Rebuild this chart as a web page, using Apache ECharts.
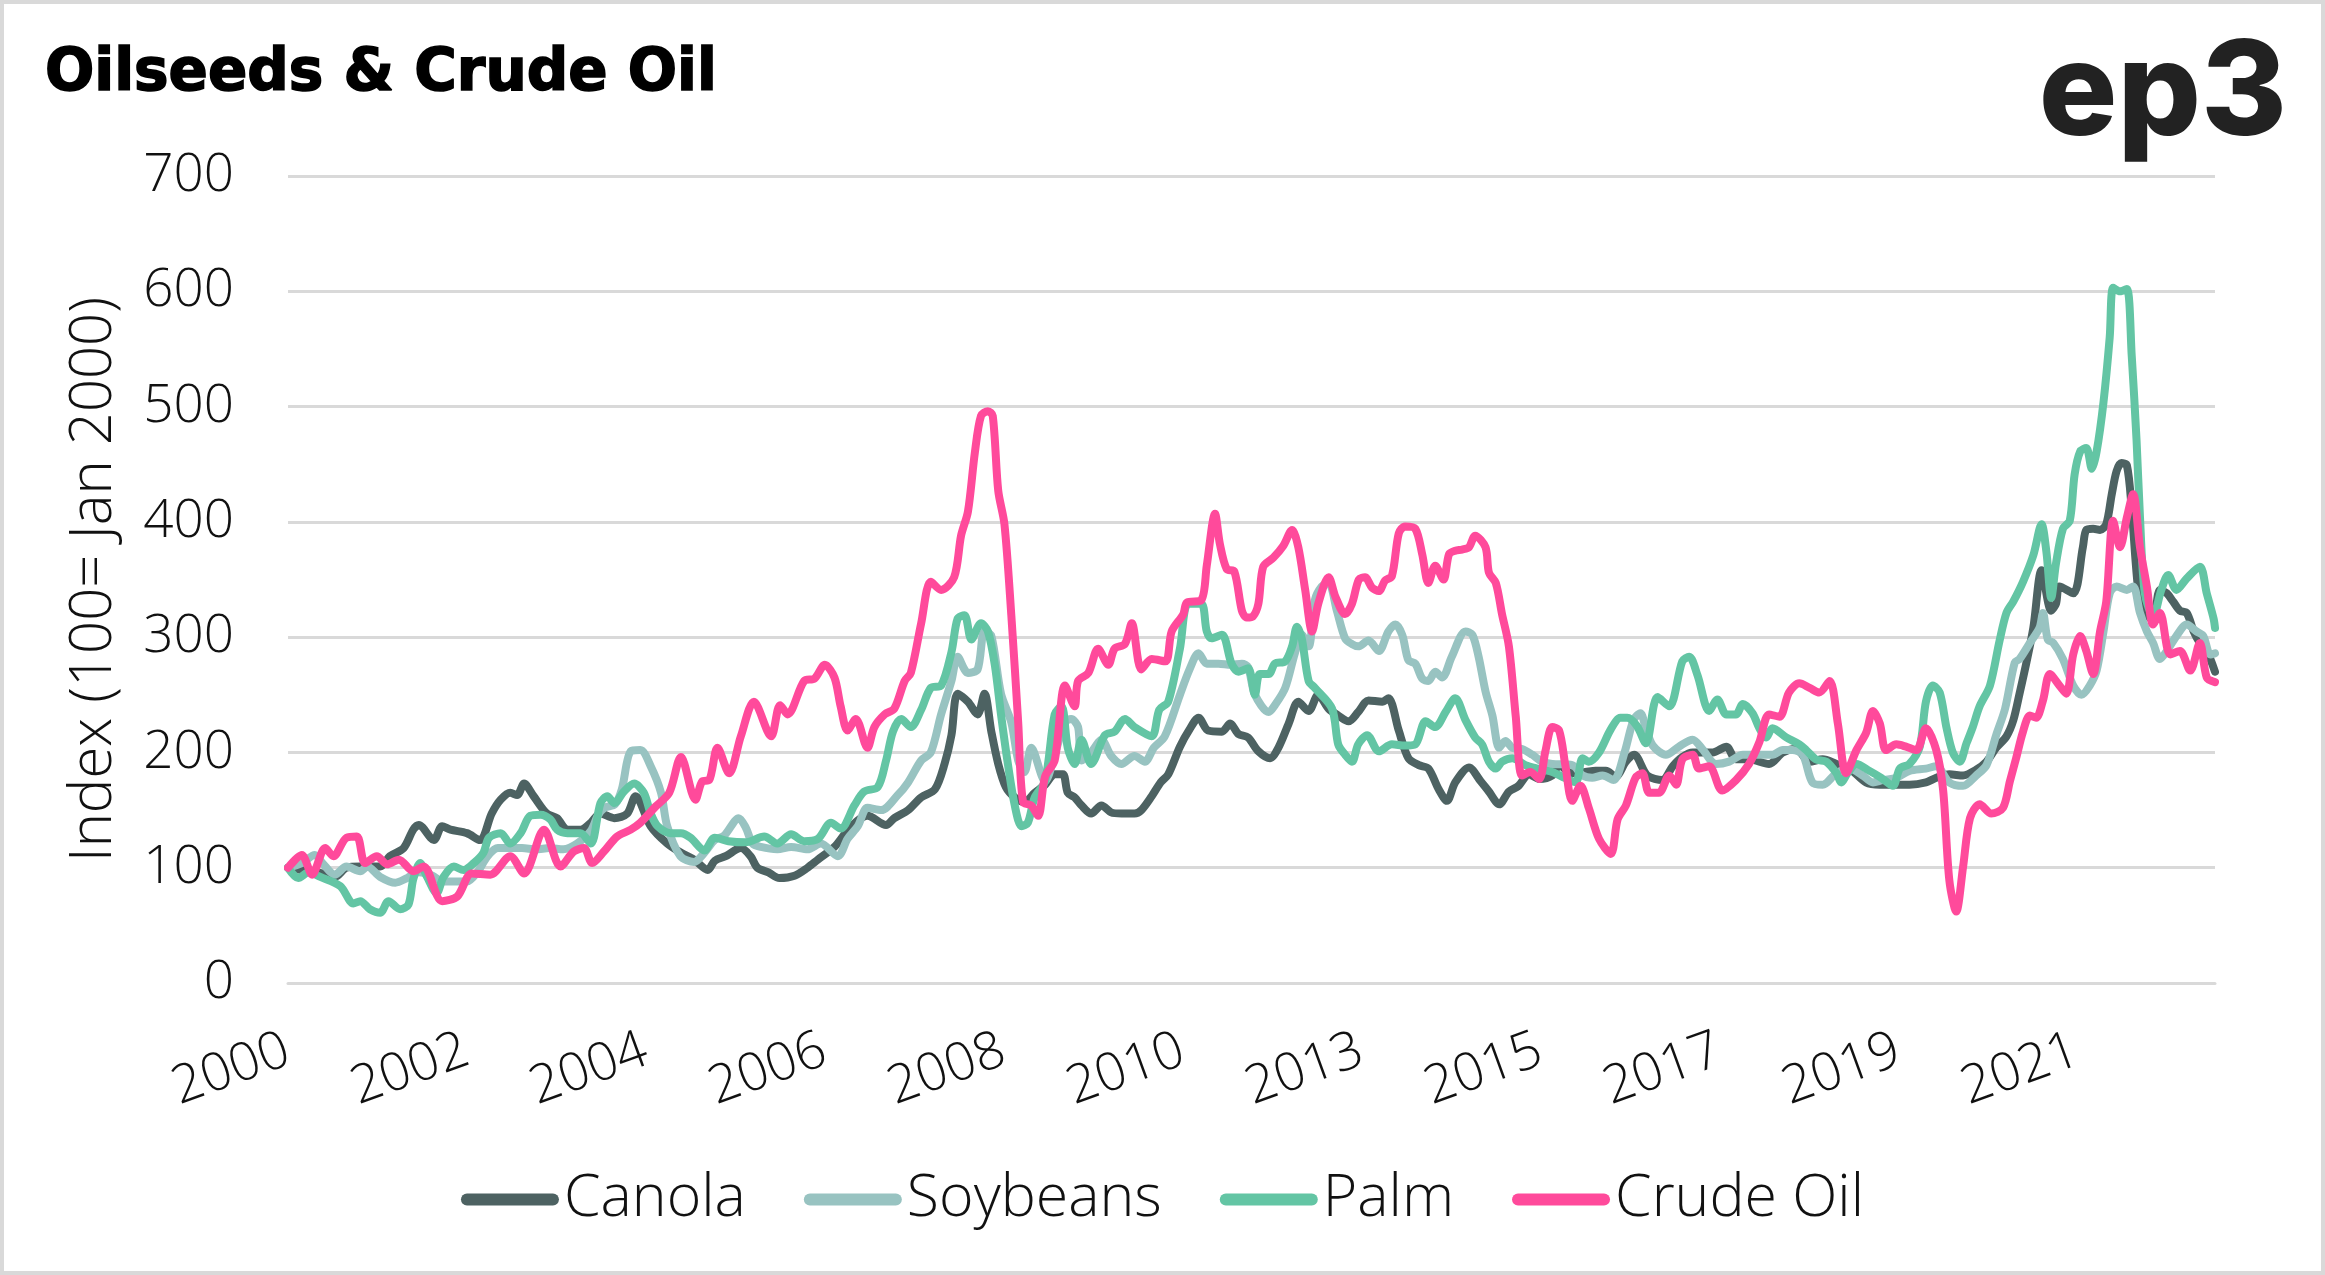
<!DOCTYPE html>
<html>
<head>
<meta charset="utf-8">
<script src="https://cdn.jsdelivr.net/npm/echarts@6/dist/echarts.min.js"></script>
<style>
html,body{margin:0;padding:0;background:#fff;}
#frame{width:2325px;height:1275px;box-sizing:border-box;border:4px solid #d9d9d9;position:relative;}
#chart{position:absolute;left:-4px;top:-4px;width:2325px;height:1275px;}
</style>
</head>
<body>
<div id="frame"><div id="chart"></div></div>
<script>
// month index 0 = Jan 2000; labels every 26 months
const yearLabels = ['2000','2002','2004','2006','2008','2010','2013','2015','2017','2019','2021'];
const seriesNames = ['Canola','Soybeans','Palm','Crude Oil'];

const canola = [[0,100],[2,98],[5,95],[6.8,92],[8.5,100],[10.5,101],[13.4,101],[14.8,110],[16.8,117],[18.2,133],[19,137],[21.2,124],[22.4,136],[23.6,133],[26,130],[27.9,124],[29.6,147],[30.9,159],[32.3,165],[33.3,163],[34.3,173],[35.7,162],[37.6,147],[39.1,143],[40.6,133],[42.5,133],[44,139],[45.4,147],[47.4,143],[49.3,147],[50.5,162],[52.7,136],[55.1,121],[57.1,113],[59,107],[61,98],[62,106],[63.6,110],[65.8,117],[67.2,110],[68.2,100],[69.8,96],[71.4,91],[73.6,93],[75.5,100],[77,107],[79.4,118],[81,130],[82.8,141],[84.2,145],[86.9,137],[88.1,143],[90.1,150],[92,161],[94,168],[95.4,190],[96.4,215],[97.3,251],[98.8,244],[100.2,233],[101.2,251],[102.2,218],[103.2,190],[104.3,170],[105.6,161],[107,157],[108.5,165],[110,172],[111.4,181],[112.6,181],[113.3,165],[114.3,161],[115.3,154],[116.7,147],[118.2,154],[119.6,148],[121.1,147],[123,147],[124,150],[125.5,162],[126.8,174],[127.9,181],[129.6,205],[131,220],[132.3,230],[133.7,219],[135.7,218],[136.9,225],[138.1,216],[139.5,213],[141,201],[142.7,195],[143.9,204],[145.4,225],[146.8,244],[148.3,236],[149.7,250],[151.2,238],[152.6,232],[154.1,227],[155.5,235],[157,245],[159,244],[159.9,247],[161.4,219],[162.8,195],[164.3,189],[165.7,186],[167.2,168],[168.4,158],[169.6,174],[171.6,187],[173.3,175],[174.5,166],[176,155],[177.4,166],[178.8,171],[180.3,181],[181.8,177],[183.7,180],[184.7,189],[186.5,182],[188.5,183],[190,184],[191.5,184],[192.9,179],[194.4,192],[195.6,198],[197.5,180],[199.7,176],[201.2,188],[202.6,196],[204.1,200],[207,200],[209,205],[210.4,194],[212.3,194],[215.2,190],[217.2,200],[219.1,203],[221.1,192],[223,194],[225,190],[226.9,186],[229.3,174],[231.3,172],[233.7,172],[235.6,172],[238,174],[239.5,178],[241.4,181],[243.4,180],[245.3,185],[246.8,192],[248.2,204],[249.7,214],[250.7,228],[251.6,251],[252.6,278],[253.6,308],[254.8,358],[256.2,323],[256.9,329],[257.4,344],[259.4,338],[260.8,378],[261.3,393],[262.3,394],[263.3,393],[264.2,398],[265,424],[265.7,444],[266.4,451],[267.2,449],[267.9,411],[268.9,338],[269.8,321],[271,315],[272,341],[273,338],[273.9,331],[274.9,323],[275.9,321],[276.9,305],[277.8,295],[278.8,288],[280,270]];

const soybeans = [[0,100],[2,104],[3.9,111],[5,104],[6.8,94],[8.5,101],[10.5,97],[11.5,101],[13.4,92],[15.6,87],[17.3,91],[19,96],[21,93],[22.4,88],[24,88],[26,88],[27.5,96],[29,110],[30.5,117],[32,117],[34,117],[36,116],[38,117],[40,116],[42,121],[44,132],[45,145],[46,152],[47.5,155],[48.5,168],[49.8,201],[51.2,202],[52.7,188],[54.2,165],[55.1,136],[57,110],[59,105],[60.5,113],[62,124],[63.4,128],[65.5,143],[66.5,135],[67.5,121],[68.7,118],[71.1,116],[73.1,118],[75.5,116],[77.4,121],[79.9,110],[81.3,125],[82.8,136],[84.2,152],[86.2,150],[88.6,163],[90.1,174],[92,193],[93.4,200],[94.9,233],[96.4,262],[97.3,283],[98.8,269],[100.2,272],[101.2,305],[102.2,301],[103.6,251],[105.1,226],[106.1,193],[107,183],[108,204],[110,175],[111.5,200],[112.9,226],[113.8,229],[114.8,222],[115.3,193],[116.7,200],[118.2,211],[119.6,197],[121.1,190],[123,197],[124.5,192],[125.8,204],[127.4,214],[129.6,250],[131,272],[132.3,286],[133.5,277],[135.2,277],[137,276],[138.6,277],[139.5,274],[140.5,250],[142.5,235],[143.4,241],[144.9,256],[146.3,286],[147.3,302],[148.3,292],[149.2,332],[150.2,344],[151.2,347],[152.4,323],[153.6,299],[154.6,294],[155.5,292],[157,297],[158.5,288],[159.9,305],[160.9,311],[161.9,302],[162.8,280],[163.8,277],[164.8,264],[165.7,262],[166.7,270],[167.7,265],[169.1,283],[171.1,305],[172.1,302],[173,283],[174,253],[175,232],[176,204],[176.9,210],[177.9,204],[179.3,203],[180.8,198],[182.2,192],[183.7,190],[186.6,189],[188.1,180],[189.5,178],[191,180],[192.6,176],[194.2,200],[195.5,228],[196.5,234],[197.3,221],[198.3,206],[200.2,198],[202.1,205],[204.1,211],[205.5,203],[207.5,190],[209.4,192],[211.4,198],[213.5,198],[215.7,198],[217.2,202],[218.6,202],[220.1,198],[221.5,174],[223,172],[225,182],[226.9,186],[228.8,180],[230.3,174],[231.7,176],[233.7,178],[235.6,184],[238,186],[239.5,188],[241.4,174],[243.4,171],[245.3,180],[246.8,189],[248.2,215],[249.5,238],[250.9,278],[251.6,281],[253.1,295],[254.5,308],[255,321],[255.7,298],[256.5,295],[257.9,281],[259.4,258],[260.6,250],[261.8,258],[262.8,271],[263.8,305],[264.7,338],[265.7,344],[267.2,341],[268.1,344],[269.1,321],[270.1,305],[271,295],[272,281],[273,288],[274.4,301],[275.9,311],[277.3,305],[278.3,301],[279.3,285],[280,286]];

const palm = [[0,100],[1.5,91],[3,96],[4.7,92],[7.6,84],[9.5,69],[10.5,71],[11.9,64],[13.4,61],[14.6,71],[16.3,64],[17.5,68],[18.2,90],[19.2,104],[20.2,92],[21.6,78],[22.6,92],[24.1,101],[25.5,98],[27,104],[28.4,113],[29.2,126],[30.9,130],[32.3,121],[33.8,130],[35.2,145],[36.7,146],[38.1,142],[39.1,133],[40.6,130],[42.5,130],[44,121],[45.4,156],[46.4,162],[47.4,156],[48.8,166],[50.3,173],[51.7,165],[52.7,147],[53.7,136],[55.6,130],[57.1,130],[58.5,126],[60.5,115],[62,126],[64,123],[66.5,122],[69.2,127],[71.1,121],[73.1,129],[75,123],[77,125],[78.9,139],[80.3,134],[82.3,154],[83.7,166],[85.7,170],[86.9,193],[87.9,218],[89.1,229],[90.5,222],[92,237],[93.4,256],[94.9,258],[96.4,287],[97.3,316],[98.3,319],[99.3,298],[100.7,312],[101.7,305],[102.7,276],[103.6,233],[104.6,190],[105.6,154],[106.6,136],[107.5,139],[108.5,161],[110,175],[111.4,233],[112.4,240],[113.3,204],[114.3,190],[115.3,211],[116.7,190],[118.7,215],[120.1,218],[121.6,229],[123,222],[125.5,214],[126.6,237],[127.9,244],[129.6,290],[130.8,329],[132.7,329],[133.5,305],[134.2,299],[135.7,302],[137.1,277],[138.1,270],[139.5,273],[140.5,250],[141.2,268],[142.5,268],[143.4,277],[144.9,279],[145.9,292],[146.6,309],[147.3,299],[148.3,262],[149.2,256],[151.7,238],[152.6,207],[153.6,198],[154.6,192],[155.5,207],[156.8,215],[158.5,201],[160.4,207],[162.3,206],[163.8,207],[165.3,227],[166.7,222],[168.2,235],[169.6,247],[171.1,228],[172.5,213],[173.5,207],[174.5,192],[175.5,186],[176.4,192],[177.9,195],[179.8,189],[181.5,186],[183.7,183],[185.5,178],[187.1,174],[188.1,195],[189,192],[190.5,200],[192.2,220],[193.6,230],[194.6,230],[196,223],[197.3,208],[199,248],[200.7,240],[202.6,279],[203.6,283],[204.8,267],[206.5,236],[207.7,246],[209,233],[210.4,233],[211.4,242],[212.8,234],[213.8,221],[214.8,213],[215.7,221],[217.7,213],[219.6,207],[220.6,202],[222,194],[223.5,192],[225,182],[225.7,174],[226.6,182],[227.9,190],[229.8,184],[231.5,178],[233.2,171],[234.2,186],[235.6,190],[237.1,205],[238,244],[239,258],[240,252],[241,221],[241.9,200],[242.9,192],[243.9,208],[244.8,222],[245.8,240],[247.3,258],[248.7,297],[249.7,321],[250.7,331],[252.1,348],[253.6,371],[254.8,398],[255.5,374],[256.2,334],[256.9,364],[257.9,394],[258.9,401],[259.6,441],[260.4,461],[261.3,464],[262.1,446],[262.8,461],[263.8,504],[264.7,560],[265.2,603],[266.2,600],[267.2,602],[267.9,544],[268.6,471],[269.1,404],[269.8,338],[271,318],[272.2,341],[273.2,354],[274.4,341],[275.9,351],[277.8,361],[278.8,338],[279.8,316],[280,308]];

const crudeOil = [[0,100],[2,111],[3.5,94],[5.4,117],[6.6,110],[8.5,126],[10,127],[11.2,104],[12.9,110],[14.4,103],[16.1,107],[18.2,97],[19.7,101],[22.4,71],[24.6,75],[26.7,95],[29.4,94],[32.3,110],[34.3,95],[37.2,133],[39.6,101],[41.5,114],[43,117],[44.2,104],[45.9,114],[47.8,127],[49.8,133],[51.2,139],[53.4,153],[55.4,165],[57.1,196],[59.2,159],[60.2,175],[61.2,176],[62.4,204],[64.1,182],[65.8,214],[67.7,244],[70.2,214],[71.5,241],[72.6,233],[75,262],[76.5,264],[78,276],[79.4,265],[80.3,240],[81.3,219],[82.5,229],[84.2,204],[85.2,222],[86.7,233],[88.1,238],[89.6,262],[90.5,269],[92,312],[93.4,348],[94.9,341],[96.8,352],[97.8,388],[98.8,409],[99.8,460],[100.7,492],[101.7,496],[102.4,492],[103.2,427],[104.1,398],[105.1,319],[106.1,226],[106.8,157],[108,154],[109,145],[110,179],[111.4,193],[112.9,258],[114.3,240],[114.8,262],[116.3,269],[117.7,290],[119.2,276],[120.1,290],[121.6,294],[122.6,312],[124,272],[125.5,281],[127.5,279],[128.4,305],[130.1,320],[130.6,330],[132.7,332],[133.5,362],[134.7,407],[135.4,381],[136.4,359],[137.5,357],[138.6,323],[139.3,317],[140.2,318],[141,329],[141.7,361],[143.2,369],[144.6,379],[145.9,393],[146.8,378],[147.8,341],[148.8,305],[149.7,329],[151.2,352],[152.2,335],[153.6,320],[154.6,329],[155.6,350],[156.5,352],[157.5,343],[158.5,340],[159.4,349],[160.4,353],[161.4,390],[162.3,396],[163.8,394],[164.8,372],[165.7,347],[166.7,362],[167.9,350],[168.7,372],[169.6,375],[170.6,376],[171.6,378],[172.5,388],[174,378],[174.5,356],[175.5,347],[176.4,320],[177.4,292],[178.4,231],[179.3,180],[180.5,183],[181.8,177],[182.7,201],[183.7,222],[184.7,219],[185.6,189],[186.6,158],[187.8,171],[189,152],[190.5,125],[192.2,112],[193.2,142],[194.4,154],[195.8,178],[196.8,182],[197.8,165],[199.2,165],[200.7,180],[201.7,172],[202.6,194],[204.1,198],[205,186],[206.5,188],[208.4,167],[210.4,176],[212.3,190],[213.8,209],[215.2,233],[216.7,231],[218.1,252],[219.6,260],[221.1,256],[222.5,252],[224,262],[225.2,225],[226.4,182],[227.9,202],[229.3,217],[230.3,236],[231.3,225],[232.2,202],[233.7,207],[235.1,205],[236.6,202],[238,221],[239.5,202],[240.5,167],[241.4,89],[242.4,62],[243.4,101],[244.4,143],[245.8,155],[247.5,147],[249.2,152],[250.2,175],[251.1,195],[252.1,218],[253.1,232],[254,230],[255,245],[256,268],[257.4,258],[258.4,251],[259.4,285],[260.4,301],[261.3,288],[262.3,268],[263.3,305],[264.2,331],[265.2,401],[266.2,378],[267.2,404],[268.1,424],[269.1,378],[270.1,344],[271,311],[272,321],[273.5,285],[274.9,288],[276.4,271],[277.8,295],[278.8,265],[280,261]];

const colors = ['#4d6262','#98c3c1','#63c5a4','#ff4a9b'];
const dataSets = [canola, soybeans, palm, crudeOil];

const chart = echarts.init(document.getElementById('chart'));
const textFont = '"Open Sans", Roboto, sans-serif';
chart.setOption({
  animation: false,
  backgroundColor: 'transparent',
  color: colors,
  title: {
    text: 'Oilseeds & Crude Oil',
    left: 40, top: 41,
    textStyle: {fontFamily: '"DejaVu Sans", "Open Sans", sans-serif', fontWeight: 'bold', fontSize: 58, color: '#000',
      textBorderColor: '#000', textBorderWidth: 1.6}
  },
  graphic: [{
    type: 'text', right: 38, top: 30,
    style: {text: 'ep3', font: '800 131px Inter, "Noto Sans", sans-serif', fill: '#222'}
  }],
  grid: {left: 288, right: 110, top: 176, bottom: 292, containLabel: false},
  legend: {
    data: seriesNames, left: 'center', top: 1165,
    icon: 'path://M6,0 H92 A6,6 0 0 1 92,12 H6 A6,6 0 0 1 6,0 Z',
    itemWidth: 98, itemHeight: 13, itemGap: 58,
    textStyle: {fontFamily: textFont, fontWeight: 300, fontSize: 59, color: '#111', padding: [0,0,0,0]}
  },
  xAxis: {
    type: 'value', min: 0, max: 280, interval: 26,
    axisLine: {show: true, lineStyle: {color: '#d9d9d9', width: 3}},
    axisTick: {show: false},
    splitLine: {show: false},
    axisLabel: {
      rotate: 20, margin: 66, fontFamily: textFont, fontWeight: 300, fontSize: 53, color: '#111',
      showMaxLabel: false,
      formatter: v => (v % 26 === 0 && yearLabels[v / 26]) ? yearLabels[v / 26] : ''
    }
  },
  yAxis: {
    type: 'value', min: 0, max: 700, interval: 100,
    name: 'Index (100= Jan 2000)', nameLocation: 'middle', nameGap: 165,
    nameTextStyle: {fontFamily: textFont, fontWeight: 300, fontSize: 58, color: '#111'},
    axisLine: {show: false}, axisTick: {show: false},
    splitLine: {lineStyle: {color: '#d9d9d9', width: 3}},
    axisLabel: {margin: 54, fontFamily: textFont, fontWeight: 300, fontSize: 53, color: '#111'}
  },
  series: seriesNames.map((n, k) => ({
    name: n, type: 'line', data: dataSets[k], showSymbol: false, smooth: 0.3,
    lineStyle: {width: 8, color: colors[k], cap: 'round', join: 'round'},
    itemStyle: {color: colors[k]}
  }))
});
</script>
</body>
</html>
